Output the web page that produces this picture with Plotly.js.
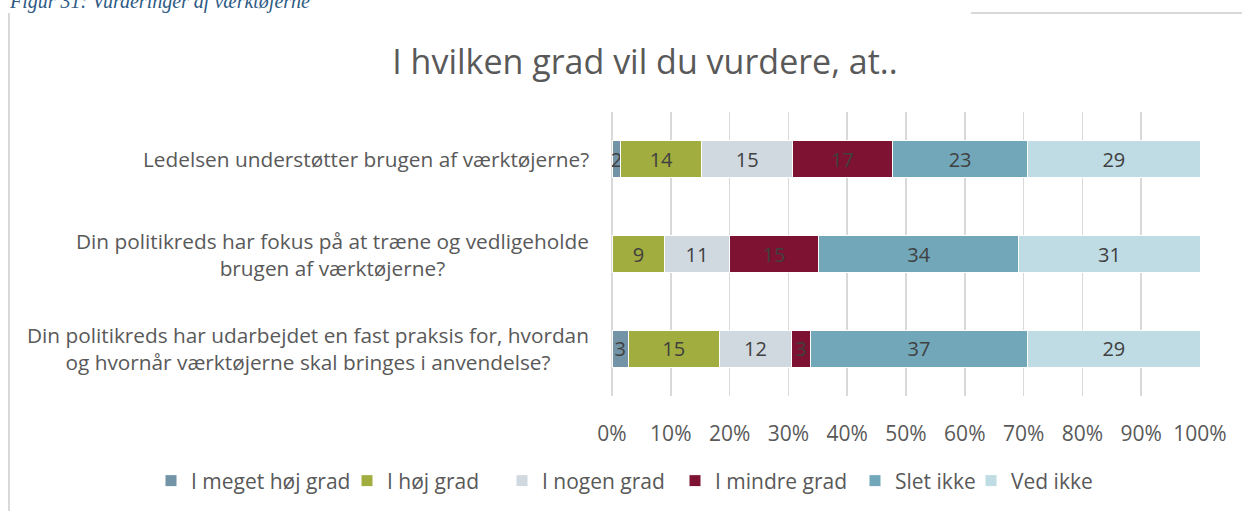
<!DOCTYPE html>
<html>
<head>
<meta charset="utf-8">
<script src="https://cdn.plot.ly/plotly-3.0.1.min.js"></script>
<style>
html,body{margin:0;padding:0;background:#fff;}
#chart{width:1242px;height:511px;}
</style>
</head>
<body>
<div id="chart"></div>
<script>
// ---- data ----
const categories = [
  "Ledelsen understøtter brugen af værktøjerne?",
  "Din politikreds har fokus på at træne og vedligeholde<br>brugen af værktøjerne?",
  "Din politikreds har udarbejdet en fast praksis for, hvordan<br>og hvornår værktøjerne skal bringes i anvendelse?"
];
const seriesNames = ["I meget høj grad", "I høj grad", "I nogen grad", "I mindre grad", "Slet ikke", "Ved ikke"];
const meget = [1.5, 0, 2.8];
const hoej = [13.8, 9.0, 15.4];
const nogen = [15.4, 10.9, 12.4];
const mindre = [17.0, 15.3, 3.1];
const slet = [23.0, 34.0, 37.0];
const vedIkke = [29.3, 30.8, 29.3];
const tickValues = [0, 10, 20, 30, 40, 50, 60, 70, 80, 90, 100];
const tickLabels = ["0%", "10%", "20%", "30%", "40%", "50%", "60%", "70%", "80%", "90%", "100%"];
const chartTitle = "I hvilken grad vil du vurdere, at..";
const caption = "Figur 31: Vurderinger af værktøjerne";

// ---- styles ----
const colors = ["#7393A7", "#A2AD3F", "#D0D9E0", "#7D1232", "#72A7B9", "#BFDCE4"];
const allSeries = [meget, hoej, nogen, mindre, slet, vedIkke];
const FONT = "Open Sans, Noto Sans, sans-serif";
// left pixel of each legend swatch
const legendSwatchX = [168, 364, 519, 692, 872, 988];

// plot geometry in pixels
const W = 1242, H = 511, L = 612, R = 1200, T = 112, B = 396;
const px = x => (x - L) / (R - L);
const py = y => (B - y) / (B - T);

const keys = ["c1", "c2", "c3"];
const legendIds = ["legend", "legend2", "legend3", "legend4", "legend5", "legend6"];

const traces = allSeries.map((vals, i) => ({
  type: "bar",
  orientation: "h",
  name: seriesNames[i],
  legend: legendIds[i],
  y: keys,
  x: vals,
  text: vals.map(v => v > 0 ? String(Math.round(v)) : ""),
  textposition: "inside",
  insidetextanchor: "middle",
  constraintext: "none",
  textfont: {family: FONT, size: 20, color: "#404040"},
  marker: {color: colors[i], line: {color: "#FFFFFF", width: 1}},
  hoverinfo: "skip"
}));

const annotations = categories.map((c, i) => ({
  xref: "paper", yref: "y",
  x: px(591), y: keys[i],
  xanchor: "right", yanchor: "middle",
  align: "center",
  text: c,
  showarrow: false,
  font: {family: FONT, size: 20.8, color: "#595959"}
}));
annotations.push({
  xref: "paper", yref: "paper",
  x: px(7), y: py(1.5),
  xanchor: "left", yanchor: "middle",
  text: "<i>" + caption + "</i>",
  showarrow: false,
  font: {family: "Liberation Serif, serif", size: 20, color: "#2E5B84"}
});

const shapes = [
  {type: "line", xref: "paper", yref: "paper", x0: px(9), x1: px(9), y0: py(13), y1: py(520), line: {color: "#D9D9D9", width: 2}},
  {type: "line", xref: "paper", yref: "paper", x0: px(971), x1: px(1250), y0: py(13), y1: py(13), line: {color: "#D9D9D9", width: 2}}
];

const layout = {
  width: W, height: H,
  margin: {l: L, r: W - R, t: T, b: H - B, pad: 0, autoexpand: false},
  paper_bgcolor: "#FFFFFF",
  plot_bgcolor: "#FFFFFF",
  barmode: "stack",
  bargap: 0.606,
  showlegend: true,
  title: {
    text: chartTitle,
    xref: "container", yref: "container",
    x: 645 / W, y: 1 - 62 / H,
    xanchor: "center", yanchor: "middle",
    font: {family: FONT, size: 34, color: "#595959"}
  },
  xaxis: {
    range: [0, 100],
    tickvals: tickValues,
    ticktext: tickLabels,
    showgrid: true,
    gridcolor: "#D9D9D9",
    gridwidth: 1.5,
    zeroline: true,
    zerolinecolor: "#D9D9D9",
    zerolinewidth: 1.5,
    showline: false,
    ticks: "",
    ticklabelstandoff: 23,
    tickfont: {family: FONT, size: 21, color: "#595959"},
    fixedrange: true
  },
  yaxis: {
    type: "category",
    categoryorder: "array",
    categoryarray: keys,
    autorange: "reversed",
    showticklabels: false,
    showgrid: false,
    zeroline: false,
    showline: false,
    ticks: "",
    fixedrange: true
  },
  annotations: annotations,
  shapes: shapes
};

legendIds.forEach((id, i) => {
  layout[id] = {
    orientation: "h",
    xref: "container",
    yref: "container",
    x: (legendSwatchX[i] - 17) / W,
    y: 1 - 481 / H,
    xanchor: "left", yanchor: "middle",
    font: {family: FONT, size: 21, color: "#595959"},
    itemwidth: 30,
    bgcolor: "rgba(0,0,0,0)"
  };
});

Plotly.newPlot("chart", traces, layout, {displayModeBar: false, staticPlot: true});
</script>
</body>
</html>
